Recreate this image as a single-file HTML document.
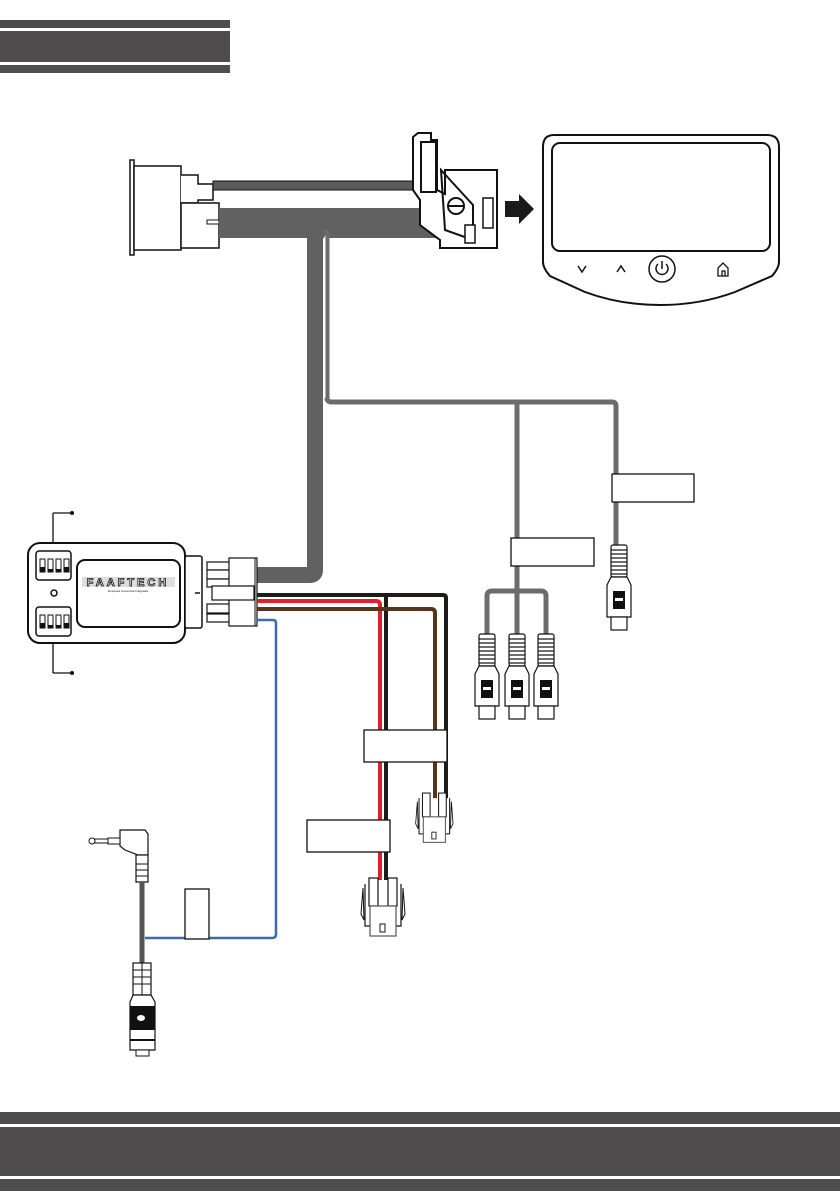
<!DOCTYPE html>
<html><head><meta charset="utf-8"><style>
html,body{margin:0;padding:0;background:#fff;}
svg{display:block;}
</style></head><body>
<svg width="840" height="1191" viewBox="0 0 840 1191" xmlns="http://www.w3.org/2000/svg">
<!-- header bars -->
<rect x="0" y="20" width="230" height="8" fill="#4e4c4d"/>
<rect x="0" y="31" width="230" height="31" fill="#4e4c4d"/>
<rect x="0" y="65" width="230" height="8" fill="#4e4c4d"/>
<!-- footer bars -->
<rect x="0" y="1112" width="840" height="12" fill="#4e4c4d"/>
<rect x="0" y="1127" width="840" height="49" fill="#4e4c4d"/>
<rect x="0" y="1179" width="840" height="12" fill="#4e4c4d"/>

<!-- OBD style connector -->
<rect x="130" y="160" width="4" height="95" fill="#fff" stroke="#111" stroke-width="1.5"/>
<rect x="134" y="166" width="47" height="84" fill="#fff" stroke="#111" stroke-width="1.5"/>
<path d="M181 175 H198 V184 H213 V200 H198 V203 H181" fill="#fff" stroke="#111" stroke-width="1.5"/>
<rect x="181" y="203" width="38" height="45" fill="#fff" stroke="#111" stroke-width="1.5"/>
<rect x="207" y="220" width="12" height="4" fill="#fff" stroke="#111" stroke-width="1"/>
<!-- thin wire top -->
<rect x="213" y="181" width="206" height="9" fill="#5c5b5b" stroke="#111" stroke-width="1"/>
<!-- thick trunk -->
<rect x="219" y="208" width="225" height="30" fill="#626161"/>
<!-- vertical thick -->
<path d="M315 230 V570 Q315 575 310 575 H257" fill="none" stroke="#626161" stroke-width="16"/>
<path d="M327 230 V398 Q327 402 332 402 H612 Q616 402 616 406 V545" fill="none" stroke="#6d6c6c" stroke-width="5"/>
<line x1="325" y1="236" x2="325" y2="398" stroke="#fff" stroke-width="1"/>
<path d="M517 402 V634" stroke="#6d6c6c" stroke-width="5" fill="none"/>
<path d="M487 636 V596 Q487 591 492 591 H541 Q546 591 546 596 V636" fill="none" stroke="#6d6c6c" stroke-width="5"/>

<!-- vehicle connector -->
<path d="M413 137 L418 133 H431 V140 H437 V190 L445 194 V170 H497 V248 H440 V240 L420 225 V200 L413 190 Z" fill="#fff" stroke="#111" stroke-width="2"/>
<rect x="421" y="142" width="15" height="50" fill="none" stroke="#111" stroke-width="2"/>
<path d="M441 170 L473 205 V240 L445 230 Z" fill="none" stroke="#111" stroke-width="2"/>
<circle cx="456" cy="206" r="8" fill="#fff" stroke="#111" stroke-width="2"/>
<line x1="449" y1="206" x2="463" y2="206" stroke="#111" stroke-width="2"/>
<rect x="483" y="198" width="10" height="30" fill="#fff" stroke="#111" stroke-width="1.5"/>
<rect x="465" y="225" width="10" height="18" fill="#fff" stroke="#111" stroke-width="1.5"/>
<!-- arrow -->
<path d="M505 201 H519 V194 L534 209 L519 224 V217 H505 Z" fill="#1a1a1a"/>

<!-- display -->
<path d="M554 135 H767 Q779 135 779 147 V262 Q779 268 772 276 L735 292 Q700 305 660 305 Q620 305 585 292 L550 276 Q543 268 543 262 V147 Q543 135 554 135 Z" fill="#fff" stroke="#111" stroke-width="2"/>
<rect x="552" y="143" width="218" height="108" rx="8" fill="#fff" stroke="#111" stroke-width="2"/>
<path d="M578 266 L582 272 L586 266" fill="none" stroke="#111" stroke-width="1.5"/>
<path d="M617 272 L621 266 L625 272" fill="none" stroke="#111" stroke-width="1.5"/>
<circle cx="662" cy="269" r="13" fill="#fff" stroke="#111" stroke-width="1.5"/>
<path d="M658 264 A6 6 0 1 0 666 264" fill="none" stroke="#111" stroke-width="1.5"/>
<line x1="662" y1="261" x2="662" y2="269" stroke="#111" stroke-width="1.5"/>
<path d="M718 276 V268 L723 263 L728 268 V276 Z M722 276 V271 H725 V276" fill="none" stroke="#111" stroke-width="1.3"/>

<!-- module -->
<line x1="53" y1="513" x2="53" y2="552" stroke="#111" stroke-width="1.3"/>
<line x1="53" y1="513" x2="72" y2="513" stroke="#111" stroke-width="1.3"/>
<circle cx="72" cy="513" r="2" fill="#111"/>
<line x1="53" y1="635" x2="53" y2="673" stroke="#111" stroke-width="1.3"/>
<line x1="53" y1="673" x2="72" y2="673" stroke="#111" stroke-width="1.3"/>
<circle cx="72" cy="673" r="2" fill="#111"/>
<rect x="28" y="543" width="157" height="100" rx="12" fill="#fff" stroke="#111" stroke-width="2"/>
<rect x="36" y="551" width="35" height="29" rx="3" fill="#fff" stroke="#111" stroke-width="1.5"/>
<rect x="36" y="607" width="35" height="29" rx="3" fill="#fff" stroke="#111" stroke-width="1.5"/>
<g fill="#fff" stroke="#111" stroke-width="1">
<rect x="40" y="559" width="5" height="13"/><rect x="48" y="559" width="5" height="13"/><rect x="56" y="559" width="5" height="13"/><rect x="64" y="559" width="5" height="13"/>
<rect x="40" y="615" width="5" height="13"/><rect x="48" y="615" width="5" height="13"/><rect x="56" y="615" width="5" height="13"/><rect x="64" y="615" width="5" height="13"/>
</g>
<g fill="#111"><rect x="40" y="567" width="5" height="5"/><rect x="48" y="569" width="5" height="3"/><rect x="56" y="569" width="5" height="3"/><rect x="64" y="567" width="5" height="5"/>
<rect x="40" y="623" width="5" height="5"/><rect x="48" y="625" width="5" height="3"/><rect x="56" y="625" width="5" height="3"/><rect x="64" y="623" width="5" height="5"/></g>
<circle cx="54" cy="593" r="3" fill="none" stroke="#111" stroke-width="1.5"/>
<rect x="77" y="560" width="103" height="67" rx="8" fill="#fff" stroke="#111" stroke-width="2"/>
<rect x="82" y="577" width="93" height="10" fill="#ddd"/>
<text x="128" y="586" text-anchor="middle" font-family="Liberation Sans, sans-serif" font-size="11" font-weight="bold" letter-spacing="3" fill="#fff" stroke="#111" stroke-width="0.8">FAAFTECH</text>
<text x="128" y="592" text-anchor="middle" font-family="Liberation Sans, sans-serif" font-size="3" fill="#111">Empresa Comercial Integrada</text>
<rect x="185" y="556" width="17" height="72" rx="2" fill="#fff" stroke="#111" stroke-width="1.5"/>
<line x1="195" y1="593" x2="200" y2="593" stroke="#111" stroke-width="1.5"/>
<g fill="#fff" stroke="#111" stroke-width="1.2">
<rect x="207" y="562" width="23" height="8"/><rect x="207" y="570" width="23" height="9"/><rect x="207" y="579" width="23" height="8"/>
<rect x="207" y="604" width="23" height="9"/><rect x="207" y="614" width="23" height="8"/>
<rect x="229" y="558" width="28" height="68"/>
<rect x="212" y="586" width="42" height="14"/>
</g>
<line x1="255" y1="558" x2="255" y2="626" stroke="#111" stroke-width="1"/>

<!-- colored wires -->
<path d="M257 595 H443 Q446 595 446 598 V800" fill="none" stroke="#1e1b1b" stroke-width="4"/>
<path d="M386 595 V880" fill="none" stroke="#1e1b1b" stroke-width="4"/>
<path d="M257 601 H376 Q380 601 380 605 V880" fill="none" stroke="#e0202a" stroke-width="4"/>
<path d="M257 609 H431 Q435 609 435 613 V800" fill="none" stroke="#5a3419" stroke-width="4"/>
<path d="M257 620 H273 Q276 620 276 623 V934 Q276 938 272 938 H145" fill="none" stroke="#3b6bb0" stroke-width="2.5"/>

<!-- label boxes -->
<g fill="#fff" stroke="#111" stroke-width="1.3">
<rect x="612" y="474" width="82" height="28"/>
<rect x="511" y="538" width="83" height="28"/>
<rect x="364" y="730" width="83" height="32"/>
<rect x="307" y="820" width="83" height="32"/>
<rect x="185" y="889" width="24" height="50"/>
</g>

<!-- RCA plug template -->
<defs>
<g id="rca">
<rect x="-8" y="0" width="16" height="32" rx="2" fill="#fff" stroke="#111" stroke-width="1.2"/>
<g stroke="#111" stroke-width="1.2"><line x1="-8" y1="5" x2="8" y2="5"/><line x1="-8" y1="9" x2="8" y2="9"/><line x1="-8" y1="13" x2="8" y2="13"/><line x1="-8" y1="17" x2="8" y2="17"/><line x1="-8" y1="21" x2="8" y2="21"/><line x1="-8" y1="25" x2="8" y2="25"/><line x1="-8" y1="29" x2="8" y2="29"/></g>
<path d="M-8 32 L-12 40 V72 H12 V40 L8 32 Z" fill="#fff" stroke="#111" stroke-width="1.2"/>
<rect x="-6" y="46" width="12" height="18" fill="#111"/>
<rect x="-4" y="53" width="8" height="3" fill="#fff"/>
<rect x="-8" y="72" width="16" height="13" fill="#fff" stroke="#111" stroke-width="1.2"/>
</g>
<g id="molex">
<path d="M-18 6 V48 H18 V6" fill="#fff" stroke="#111" stroke-width="1.2"/>
<rect x="-14" y="0" width="9" height="28" fill="#fff" stroke="#111" stroke-width="1.2"/>
<rect x="5" y="0" width="9" height="28" fill="#fff" stroke="#111" stroke-width="1.2"/>
<rect x="-13" y="28" width="26" height="30" fill="#fff" stroke="#555" stroke-width="1.2"/>
<path d="M-20 10 L-22 36 L-19 42 Z M20 10 L22 36 L19 42 Z" fill="#fff" stroke="#111" stroke-width="1"/>
<rect x="-3" y="46" width="5" height="8" fill="#fff" stroke="#111" stroke-width="1"/>
</g>
</defs>
<use href="#rca" x="619" y="545"/>
<use href="#rca" x="487" y="634"/>
<use href="#rca" x="517" y="634"/>
<use href="#rca" x="546" y="634"/>
<use href="#molex" x="435" y="793" transform="scale(0.85) translate(76 140)"/>
<use href="#molex" x="383" y="878"/>

<!-- audio jack -->
<path d="M120 830 H145 L148 834 V855 H138 L125 850 L120 846 Z" fill="#fff" stroke="#111" stroke-width="1.2"/>
<rect x="108" y="838" width="12" height="6" fill="#fff" stroke="#111" stroke-width="1"/>
<rect x="94" y="839" width="14" height="4" fill="#fff" stroke="#111" stroke-width="1"/>
<circle cx="92" cy="841" r="3" fill="#fff" stroke="#111" stroke-width="1"/>
<rect x="136" y="855" width="12" height="27" fill="#fff" stroke="#111" stroke-width="1.2"/>
<g stroke="#111" stroke-width="1"><line x1="136" y1="864" x2="148" y2="864"/><line x1="136" y1="870" x2="148" y2="870"/><line x1="136" y1="876" x2="148" y2="876"/></g>
<line x1="142" y1="882" x2="142" y2="963" stroke="#555" stroke-width="5"/>
<rect x="133" y="963" width="18" height="32" fill="#fff" stroke="#111" stroke-width="1.2"/>
<g stroke="#111" stroke-width="1"><line x1="133" y1="970" x2="151" y2="970"/><line x1="133" y1="977" x2="151" y2="977"/><line x1="133" y1="984" x2="151" y2="984"/><line x1="142" y1="963" x2="142" y2="995"/></g>
<path d="M133 995 L130 1002 V1050 H155 V1002 L151 995 Z" fill="#fff" stroke="#111" stroke-width="1.2"/>
<rect x="130" y="1006" width="25" height="24" fill="#111"/>
<ellipse cx="141" cy="1018" rx="4" ry="3" fill="#fff"/>
<line x1="130" y1="1040" x2="155" y2="1040" stroke="#111" stroke-width="2"/>
<rect x="136" y="1050" width="13" height="6" fill="#fff" stroke="#111" stroke-width="1"/>
</svg>
</body></html>
